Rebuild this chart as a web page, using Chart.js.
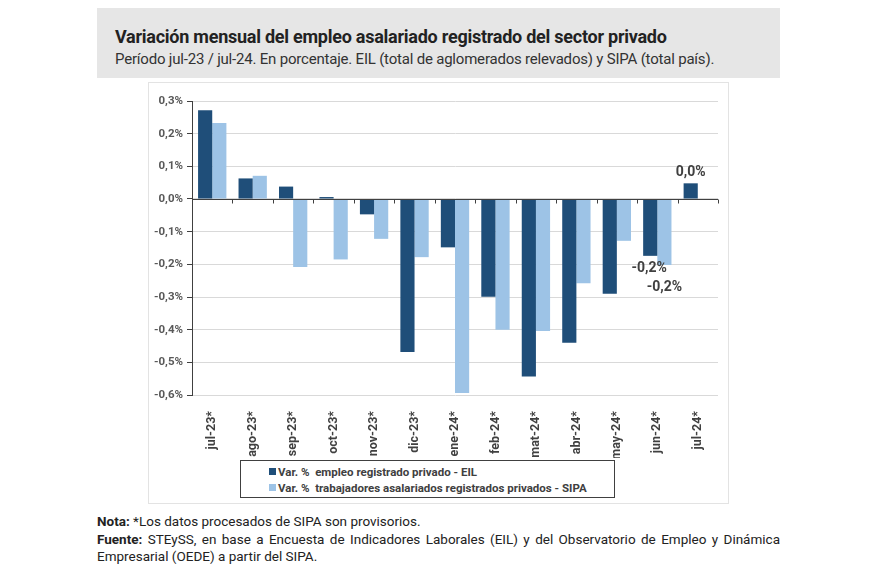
<!DOCTYPE html>
<html lang="es">
<head>
<meta charset="utf-8">
<title>Variación mensual del empleo asalariado registrado</title>
<script src="https://cdn.jsdelivr.net/npm/chart.js"></script>
<style>
  body { margin: 0; width: 870px; height: 580px; background: #fff; position: relative; overflow: hidden;
         font-family: "Roboto", sans-serif; color: #262626; }
  .header { position: absolute; left: 97px; top: 8px; width: 683px; height: 70px; background: #e6e6e6; }
  .header h1 { margin: 0; position: absolute; left: 18px; top: 18px; font-size: 18px; letter-spacing: -0.25px;
               font-weight: bold; color: #222; white-space: nowrap; }
  .header p { margin: 0; position: absolute; left: 18px; top: 42px; font-size: 15px; letter-spacing: -0.2px;
              color: #333; white-space: nowrap; }
  .frame { position: absolute; left: 148px; top: 82px; width: 579px; height: 420px; border: 1px solid #e3e3e3; }
  #chart-wrap { position: absolute; left: 148px; top: 82px; width: 580px; height: 376px; }
  #legend { position: absolute; left: 240px; top: 460px; width: 373px; height: 36px; border: 1px solid #404040;
            font-size: 11.5px; font-weight: bold; color: #404040; }
  #legend div { position: absolute; left: 28px; white-space: pre; line-height: 14px; }
  #legend span { display: inline-block; width: 7px; height: 7px; margin-right: 2px; vertical-align: 1px; }
  .notes { position: absolute; left: 97px; top: 513px; width: 683px; font-size: 13.5px; line-height: 17.5px; color: #222; }
  .notes p { margin: 0; text-align: justify; }
</style>
</head>
<body>
<div class="header">
  <h1>Variación mensual del empleo asalariado registrado del sector privado</h1>
  <p>Período jul-23 / jul-24. En porcentaje. EIL (total de aglomerados relevados) y SIPA (total país).</p>
</div>
<div class="frame"></div>
<div id="chart-wrap"><canvas id="empleoChart"></canvas></div>
<div id="legend"></div>
<div class="notes">
  <p><b>Nota:</b> *Los datos procesados de SIPA son provisorios.</p>
  <p><b>Fuente:</b> STEySS, en base a Encuesta de Indicadores Laborales (EIL) y del Observatorio de Empleo y Dinámica Empresarial (OEDE) a partir del SIPA.</p>
</div>
<script>
// datos del gráfico
var meses = ['jul-23*', 'ago-23*', 'sep-23*', 'oct-23*', 'nov-23*', 'dic-23*', 'ene-24*',
             'feb-24*', 'mat-24*', 'abr-24*', 'may-24*', 'jun-24*', 'jul-24*'];
var eil = [0.272, 0.063, 0.038, 0.006, -0.047, -0.468, -0.148, -0.299, -0.543, -0.440, -0.290, -0.174, 0.048];
var sipa = [0.233, 0.071, -0.208, -0.185, -0.122, -0.178, -0.594, -0.400, -0.404, -0.258, -0.128, -0.202, null];
var yTicks = [-0.6, -0.5, -0.4, -0.3, -0.2, -0.1, 0, 0.1, 0.2, 0.3];

var colorEil = '#1f4e79';
var colorSipa = '#9dc3e6';
var fontLabels = '"Roboto", sans-serif';

function pct(v) {
  var s = v.toFixed(1).replace('.', ',');
  if (s === '-0,0') s = '0,0';
  return s + '%';
}

// eje en cero y marcas entre categorías, encima de las barras
var zeroAxis = {
  id: 'zeroAxis',
  afterDatasetsDraw: function(chart) {
    var ctx = chart.ctx, x = chart.scales.x, y = chart.scales.y;
    var y0 = Math.round(y.getPixelForValue(0)) + 0.5;
    ctx.save();
    ctx.strokeStyle = '#404040';
    ctx.lineWidth = 1;
    ctx.beginPath();
    ctx.moveTo(chart.chartArea.left, y0);
    ctx.lineTo(chart.chartArea.right, y0);
    var half = (x.getPixelForValue(1) - x.getPixelForValue(0)) / 2;
    for (var i = 0; i < meses.length; i++) {
      var px = Math.round(x.getPixelForValue(i) + half) + 0.5;
      ctx.moveTo(px, y0);
      ctx.lineTo(px, y0 + 4);
    }
    ctx.stroke();
    ctx.restore();
  }
};

// etiquetas de valores seleccionados
var valueLabels = {
  id: 'valueLabels',
  afterDatasetsDraw: function(chart, args, opts) {
    var ctx = chart.ctx;
    ctx.save();
    ctx.font = 'bold 14px ' + fontLabels;
    ctx.fillStyle = '#404040';
    ctx.textAlign = 'center';
    ctx.textBaseline = 'middle';
    opts.items.forEach(function(it) {
      var bar = chart.getDatasetMeta(it.ds).data[it.i];
      var v = chart.data.datasets[it.ds].data[it.i];
      var yy = v >= 0 ? bar.y - it.dy : bar.y + it.dy;
      ctx.fillText(pct(v), bar.x + (it.dx || 0), yy);
    });
    ctx.restore();
  }
};

var ctxChart = document.getElementById('empleoChart').getContext('2d');
var empleoChart = new Chart(ctxChart, {
  type: 'bar',
  data: {
    labels: meses,
    datasets: [
      { label: 'Var. %  empleo registrado privado - EIL', data: eil, backgroundColor: colorEil },
      { label: 'Var. %  trabajadores asalariados registrados privados - SIPA', data: sipa, backgroundColor: colorSipa }
    ]
  },
  options: {
    responsive: true,
    maintainAspectRatio: false,
    animation: false,
    layout: { padding: { top: 19, right: 10, left: 0, bottom: 0 } },
    datasets: { bar: { barPercentage: 1, categoryPercentage: 0.7 } },
    plugins: {
      legend: { display: false },
      tooltip: { enabled: false },
      valueLabels: { items: [ { ds: 0, i: 12, dy: 11 }, { ds: 0, i: 11, dy: 13, dx: -1 }, { ds: 1, i: 11, dy: 23 } ] }
    },
    scales: {
      x: {
        grid: { display: false },
        border: { display: false },
        ticks: { minRotation: 90, maxRotation: 90, padding: 8, color: '#404040',
                 font: { family: fontLabels, size: 12.5, weight: 'bold' } },
        afterFit: function(s) { s.height = 63; }
      },
      y: {
        min: -0.6,
        max: 0.3,
        afterBuildTicks: function(s) { s.ticks = yTicks.map(function(v) { return { value: v }; }); },
        border: { display: true, color: '#404040', width: 1 },
        grid: { color: '#d9d9d9', tickColor: '#404040', tickLength: 5, drawTicks: true },
        ticks: { padding: 4, color: '#595959', font: { family: fontLabels, size: 11.5, weight: 'bold' },
                 callback: function(v) { return pct(v); } },
        afterFit: function(s) { s.width = 44; }
      }
    }
  },
  plugins: [zeroAxis, valueLabels]
});

// leyenda propia a partir de los datasets
var legendHtml = '';
empleoChart.data.datasets.forEach(function(ds, k) {
  legendHtml += '<div style="top:' + (4 + k * 16) + 'px"><span style="background:' + ds.backgroundColor + '"></span>' + ds.label + '</div>';
});
document.getElementById('legend').innerHTML = legendHtml;
</script>
</body>
</html>
